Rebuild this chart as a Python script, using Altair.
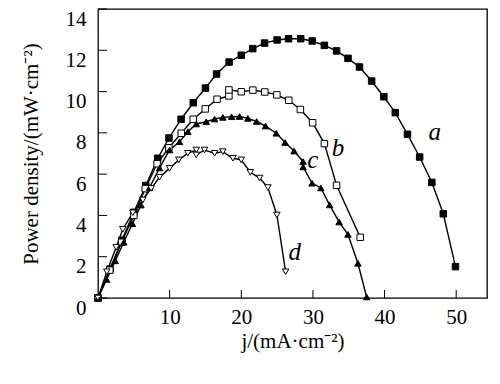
import altair as alt
import pandas as pd

# ---- data ----
series_names = ["a", "b", "c", "d"]

a_x = [0, 1.67, 3.33, 5.0, 6.67, 8.35, 9.9, 11.6, 13.3, 15.0, 16.55, 18.3, 20.0, 21.6, 23.25,
       25.0, 26.6, 28.3, 29.9, 31.6, 33.3, 34.9, 36.5, 38.2, 39.9, 41.5, 43.2, 44.9, 46.6, 48.2, 49.9]
a_y = [0, 1.4, 2.8, 4.15, 5.45, 6.77, 7.75, 8.66, 9.46, 10.17, 10.85, 11.43, 11.76, 12.08, 12.35,
       12.5, 12.56, 12.56, 12.45, 12.24, 11.97, 11.61, 11.19, 10.51, 9.75, 8.98, 7.93, 6.83, 5.6, 4.08, 1.52]

b_x = [0, 1.65, 3.3, 5.0, 6.6, 8.25, 9.89, 11.62, 13.3, 14.97, 16.62, 18.27, 18.27, 20.0, 21.62,
       23.28, 24.97, 26.63, 28.25, 29.96, 31.6, 33.3, 36.6]
b_y = [0, 1.35, 2.7, 4.0, 5.3, 6.5, 7.28, 7.98, 8.66, 9.16, 9.63, 9.79, 10.08, 9.99, 10.07,
       9.98, 9.84, 9.58, 9.13, 8.49, 7.48, 5.46, 2.94]

c_x = [0, 1.2, 2.4, 3.6, 4.8, 6.0, 7.2, 8.6, 9.99, 11.38, 12.54, 13.72, 15.11, 16.27, 17.43, 18.65,
       19.76, 20.92, 22.14, 23.39, 24.89, 26.12, 27.37, 28.63, 28.63, 29.89, 31.1, 32.33, 33.66,
       34.89, 36.28, 37.5]
c_y = [0, 0.9, 1.8, 2.7, 3.6, 4.5, 5.35, 6.3, 7.17, 7.57, 8.06, 8.43, 8.54, 8.67, 8.75, 8.78,
       8.79, 8.70, 8.55, 8.33, 7.98, 7.53, 7.12, 6.61, 6.35, 5.56, 5.33, 4.51, 3.68,
       3.08, 1.68, 0.05]

d_x = [0, 1.23, 2.54, 3.46, 4.86, 6.26, 7.43, 8.59, 9.99, 11.28, 12.54, 13.72, 13.72, 14.87,
       16.27, 17.43, 18.83, 20.0, 21.26, 22.56, 23.72, 24.97, 26.19]
d_y = [0, 1.27, 2.46, 3.33, 4.13, 4.75, 5.31, 5.85, 6.28, 6.69, 7.01, 7.17, 6.93, 7.17,
       7.01, 7.09, 6.77, 6.69, 6.09, 5.81, 5.35, 4.02, 1.27]

label_text = ["a", "b", "c", "d"]
label_x = [47.0, 33.5, 30.0, 27.45]
label_y = [8.06, 7.25, 6.69, 2.24]

y_tick_values = [0, 2, 4, 6, 8, 10, 12, 14]
x_tick_values = [10, 20, 30, 40, 50]

# ---- build tables ----
rows = []
for name, xs, ys in zip(series_names, [a_x, b_x, c_x, d_x], [a_y, b_y, c_y, d_y]):
    for i, (xv, yv) in enumerate(zip(xs, ys)):
        rows.append({"s": name, "j": xv, "p": yv, "i": i})
df = pd.DataFrame(rows)
labels_df = pd.DataFrame({"t": label_text, "j": label_x, "p": label_y})
yt_df = pd.DataFrame({"j": [0] * len(y_tick_values), "p": y_tick_values})
xt_df = pd.DataFrame({"j": x_tick_values, "p": [0] * len(x_tick_values)})

W, H = 389, 289
FONT = "Liberation Serif"

xscale = alt.Scale(domain=[0, 54.3], nice=False, zero=False)
yscale = alt.Scale(domain=[0, 14], nice=False)

x_axis = alt.Axis(values=x_tick_values, ticks=False, domain=False, grid=False,
                  labelPadding=8, labelFontSize=21, labelFont=FONT, labelColor="black",
                  title="j/(mA·cm⁻²)", titleFont=FONT, titleFontSize=21,
                  titleFontWeight="normal", titleColor="black", titlePadding=3)
y_axis = alt.Axis(values=y_tick_values, ticks=False, domain=False, grid=False,
                  labelPadding=12, labelFontSize=21, labelFont=FONT, labelColor="black",
                  labelOffset=10, labelFlush=False,
                  title="Power density/(mW·cm⁻²)", titleFont=FONT, titleFontSize=21,
                  titleFontWeight="normal", titleColor="black", titlePadding=24)

X = alt.X("j:Q", scale=xscale, axis=x_axis)
Y = alt.Y("p:Q", scale=yscale, axis=y_axis)

base = alt.Chart(df)

lines = base.mark_line(color="black", strokeWidth=1.4).encode(
    x=X, y=Y, detail="s:N", order="i:Q",
)

points = base.mark_point(stroke="black", strokeWidth=1, opacity=1).encode(
    x=X, y=Y,
    shape=alt.Shape("s:N", scale=alt.Scale(domain=series_names,
                    range=["square", "square", "triangle-up", "triangle-down"]), legend=None),
    fill=alt.Fill("s:N", scale=alt.Scale(domain=series_names,
                  range=["black", "white", "black", "white"]), legend=None),
    size=alt.Size("s:N", scale=alt.Scale(domain=series_names, range=[42, 42, 58, 68]), legend=None),
)

texts = alt.Chart(labels_df).mark_text(font=FONT, fontSize=25, fontStyle="italic",
                                        color="black", align="center", baseline="middle").encode(
    x=X, y=Y, text="t:N",
)

yticks = alt.Chart(yt_df).mark_rule(color="black", strokeWidth=1).encode(
    y=Y, x=alt.value(0), x2=alt.value(9),
)
xticks = alt.Chart(xt_df).mark_rule(color="black", strokeWidth=1).encode(
    x=X, y=alt.value(H), y2=alt.value(H - 8),
)

chart = alt.layer(lines, points, texts, yticks, xticks).properties(
    width=W, height=H,
    autosize=alt.AutoSizeParams(type="none"),
    padding={"left": 90, "top": 1, "right": 5, "bottom": 78},
    background="white",
).configure_view(stroke="black", strokeWidth=1.3)

chart.save("out.html", embed_options={"renderer": "svg", "actions": False})
